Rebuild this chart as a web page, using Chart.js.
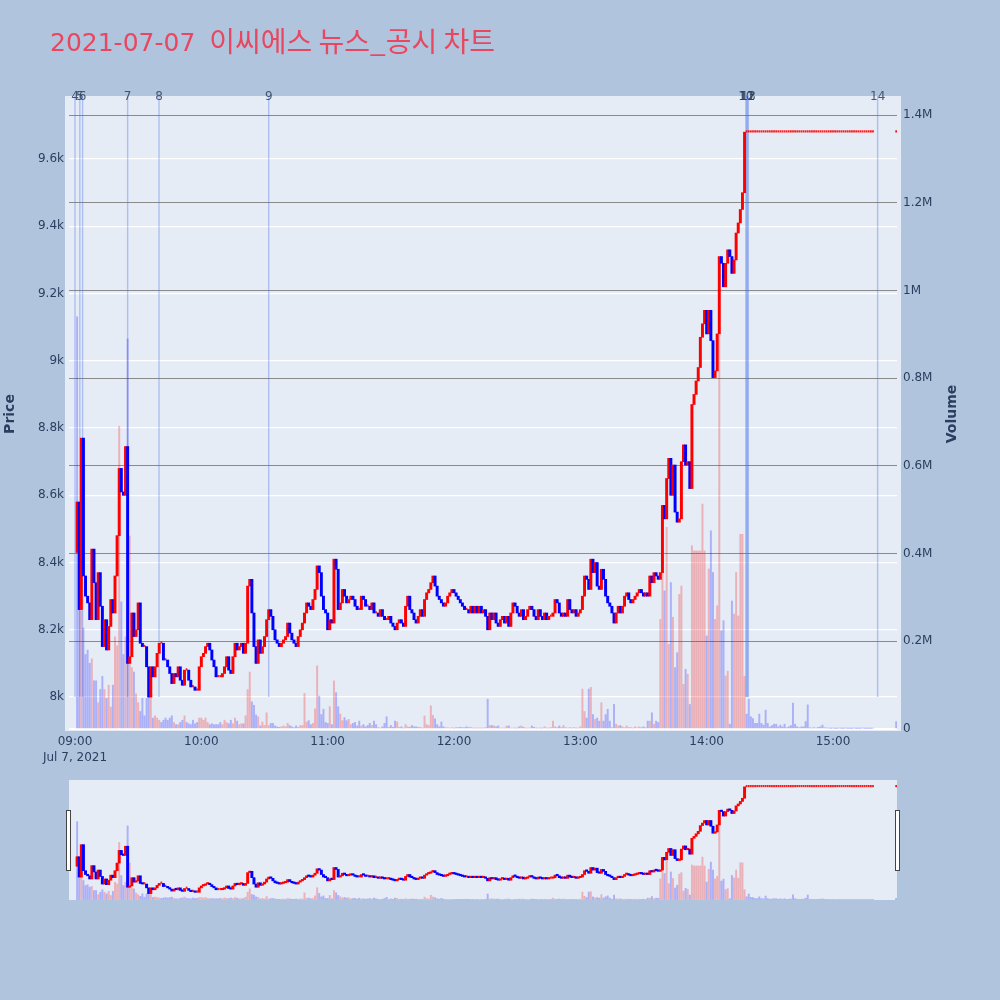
<!DOCTYPE html>
<html>
<head>
<meta charset="utf-8">
<script src="https://cdn.jsdelivr.net/npm/chart.js@4.4.1/dist/chart.umd.min.js"></script>
<style>
  body { margin: 0; background: #b0c4de; }
  #wrap { position: relative; width: 1000px; height: 1000px; }
  #main { position: absolute; left: 0; top: 0; }
  #sliderBox { position: absolute; left: 69px; top: 780px; width: 828px; height: 120px; }
  .handle { position: absolute; top: 810px; width: 3px; height: 59px; background: #fff; border: 1px solid #444; }
</style>
</head>
<body>
<div id="wrap">
  <canvas id="main" width="1000" height="1000"></canvas>
  <div id="sliderBox"><canvas id="slider" width="828" height="120"></canvas></div>
  <div class="handle" style="left:66px"></div>
  <div class="handle" style="left:895px"></div>
</div>
<script>
// ------------------------------
// Data (minute bars, 09:01 onwards)
// ------------------------------
const titleDate = "2021-07-07";
const titleName = "이씨에스 뉴스_공시 차트";
const startMinute = 1;          // first bar = 09:01
const firstOpen = 8430;

const closes = [
  8580, 8260, 8770, 8360, 8300, 8280, 8230, 8440, 8340, 8230,
  8370, 8270, 8150, 8230, 8140, 8210, 8290, 8250, 8360, 8480,
  8680, 8610, 8600, 8745, 8100, 8120, 8250, 8180, 8200, 8280,
  8160, 8150, 8150, 8090, 8000, 8090, 8060, 8090, 8130, 8160,
  8160, 8110, 8110, 8090, 8070, 8040, 8070, 8060, 8090, 8050,
  8035, 8080, 8080, 8050, 8030, 8030, 8020, 8020, 8090, 8120,
  8130, 8150, 8160, 8140, 8110, 8090, 8060, 8060, 8060, 8070,
  8090, 8120, 8080, 8070, 8120, 8160, 8140, 8150, 8160, 8130,
  8160, 8330, 8350, 8250, 8150, 8100, 8170, 8130, 8150, 8180,
  8230, 8260, 8240, 8200, 8170, 8160, 8150, 8160, 8170, 8180,
  8220, 8190, 8170, 8160, 8150, 8180, 8200, 8220, 8250, 8280,
  8270, 8260, 8290, 8320, 8390, 8370, 8300, 8260, 8250, 8200,
  8230, 8220, 8410, 8380, 8260, 8280, 8320, 8300, 8280, 8290,
  8300, 8290, 8270, 8260, 8260, 8300, 8290, 8270, 8270, 8260,
  8280, 8250, 8250, 8240, 8260, 8240, 8230, 8230, 8240, 8220,
  8210, 8200, 8220, 8230, 8220, 8210, 8270, 8300, 8260, 8250,
  8230, 8220, 8240, 8260, 8240, 8290, 8310, 8320, 8340, 8360,
  8330, 8300, 8290, 8280, 8270, 8280, 8300, 8310, 8320, 8310,
  8300, 8290, 8280, 8270, 8260, 8260, 8250, 8270, 8250, 8270,
  8250, 8270, 8250, 8260, 8240, 8200, 8250, 8230, 8250, 8220,
  8210, 8230, 8240, 8220, 8240, 8210, 8250, 8280, 8270, 8250,
  8240, 8260, 8230, 8240, 8260, 8270, 8260, 8240, 8230, 8260,
  8240, 8230, 8250, 8230, 8240, 8240, 8250, 8290, 8280, 8250,
  8240, 8250, 8240, 8290, 8260, 8250, 8260, 8240, 8250, 8260,
  8300, 8360, 8350, 8320, 8410, 8370, 8400, 8330, 8320, 8380,
  8350, 8300, 8280, 8270, 8250, 8220, 8250, 8270, 8250, 8270,
  8300, 8310, 8290, 8280, 8290, 8300, 8310, 8320, 8310, 8300,
  8310, 8300, 8360, 8340, 8370, 8360, 8350, 8370, 8570, 8530,
  8650, 8710, 8600, 8690, 8550, 8520, 8530, 8700, 8750, 8690,
  8700, 8620, 8870, 8900, 8940, 8980, 9070, 9110, 9150, 9080,
  9150, 9060, 8950, 8970, 9080, 9310, 9290, 9220, 9290, 9330,
  9310, 9260, 9300, 9380, 9410, 9450, 9500, 9680,
  // upper limit until 15:19
  9680, 9680, 9680, 9680, 9680, 9680, 9680, 9680, 9680, 9680,
  9680, 9680, 9680, 9680, 9680, 9680, 9680, 9680, 9680, 9680,
  9680, 9680, 9680, 9680, 9680, 9680, 9680, 9680, 9680, 9680,
  9680, 9680, 9680, 9680, 9680, 9680, 9680, 9680, 9680, 9680,
  9680, 9680, 9680, 9680, 9680, 9680, 9680, 9680, 9680, 9680,
  9680, 9680, 9680, 9680, 9680, 9680, 9680, 9680, 9680, 9680,
  9680
];

// thousand shares per minute
const volumes = [
  940, 290, 270, 230, 170, 180, 150, 160, 110, 110,
  60, 90, 120, 90, 70, 100, 50, 100, 210, 190,
  690, 290, 170, 210, 890, 440, 140, 130, 80, 60,
  40, 70, 30, 70, 80, 90, 25, 30, 25, 20,
  15, 20, 25, 20, 25, 30, 15, 10, 10, 15,
  20, 30, 15, 12, 10, 20, 12, 15, 25, 25,
  20, 25, 15, 10, 12, 10, 10, 10, 15, 10,
  20, 15, 12, 20, 12, 25, 18, 10, 12, 12,
  30, 90, 130, 62, 54, 32, 28, 7, 16, 8,
  37, 8, 13, 13, 7, 5, 4, 5, 7, 5,
  13, 8, 5, 3, 7, 4, 8, 8, 81, 16,
  19, 10, 13, 46, 144, 75, 33, 45, 15, 13,
  51, 10, 110, 83, 51, 34, 19, 26, 19, 22,
  10, 13, 15, 7, 18, 7, 10, 5, 8, 13,
  8, 18, 10, 3, 2, 5, 13, 28, 4, 8,
  4, 18, 16, 4, 5, 2, 10, 5, 4, 8,
  5, 5, 4, 4, 2, 30, 10, 8, 53, 31,
  23, 10, 5, 16, 5, 3, 3, 2, 3, 2,
  3, 3, 4, 3, 3, 5, 3, 4, 2, 2,
  2, 2, 2, 2, 3, 68, 8, 8, 7, 5,
  7, 2, 2, 2, 7, 7, 2, 2, 2, 2,
  5, 7, 4, 2, 2, 2, 7, 4, 2, 2,
  2, 2, 5, 2, 2, 3, 18, 5, 3, 7,
  3, 8, 3, 2, 3, 2, 3, 2, 2, 5,
  91, 40, 25, 91, 95, 33, 22, 25, 18, 60,
  18, 33, 45, 18, 3, 56, 11, 7, 8, 5,
  3, 7, 3, 3, 2, 5, 3, 5, 3, 5,
  3, 18, 18, 37, 11, 18, 15, 250, 467, 315,
  460, 193, 334, 255, 140, 174, 307, 326, 102, 136,
  125, 56, 418, 406, 406, 406, 406, 513, 406, 212,
  365, 452, 357, 250, 281, 898, 224, 247, 121, 132,
  11, 292, 262, 357, 258, 444, 444, 120,
  34, 68, 28, 24, 13, 13, 34, 13, 9, 43,
  13, 5, 8, 11, 11, 5, 9, 5, 11, 3,
  5, 8, 59, 11, 5, 3, 5, 5, 17, 55,
  3, 2, 3, 2, 4, 5, 9, 3, 2,
  2, 1, 2, 1, 1, 2, 1, 1, 2, 1, 1,
  1, 2, 1, 1, 1, 2, 1, 1, 1, 1, 2
];

// closing auction 15:30
const auctionMinute = 390;
const auctionPrice = 9680;
const auctionVolume = 17;

// news / disclosure markers
const newsLabels  = ["4", "5", "6", "7", "8", "9", "10", "11", "12", "13", "14"];
const newsMinutes = [0, 2.3, 3.6, 25.0, 39.9, 92.0, 318.6, 319.0, 319.4, 319.8, 381.2];

const priceTicks = [8000, 8200, 8400, 8600, 8800, 9000, 9200, 9400, 9600];
const priceTickLabels = ["8k", "8.2k", "8.4k", "8.6k", "8.8k", "9k", "9.2k", "9.4k", "9.6k"];
const volumeTicks = [0, 200000, 400000, 600000, 800000, 1000000, 1200000, 1400000];
const volumeTickLabels = ["0", "0.2M", "0.4M", "0.6M", "0.8M", "1M", "1.2M", "1.4M"];
const timeTicks = [0, 60, 120, 180, 240, 300, 360];
const timeTickLabels = ["09:00", "10:00", "11:00", "12:00", "13:00", "14:00", "15:00"];

// ------------------------------
// Build bar points
// ------------------------------
const RED = "#ff0000", BLUE = "#0000ff";
const VOL_RED = "rgba(255,0,0,0.25)", VOL_BLUE = "rgba(0,0,255,0.25)";

function buildSeries() {
    const candles = [], candleColors = [], flats = [], vols = [], volColors = [];
    const addCandle = (m, o, c) => {
        if (o === c) {
            flats.push({ x: m, y: [o, c] });   // unchanged minutes: small ticks
        } else {
            candles.push({ x: m, y: [o, c] });
            candleColors.push(c > o ? RED : BLUE);
        }
    };
    closes.forEach((c, i) => {
        const m = startMinute + i;
        addCandle(m, i ? closes[i - 1] : firstOpen, c);
        vols.push({ x: m, y: volumes[i] * 1000 });
        volColors.push(i > 0 && c > closes[i - 1] ? VOL_RED : VOL_BLUE);
    });
    const last = closes[closes.length - 1];
    addCandle(auctionMinute, last, auctionPrice);
    vols.push({ x: auctionMinute, y: auctionVolume * 1000 });
    volColors.push(auctionPrice > last ? VOL_RED : VOL_BLUE);

    return [
        { type: "bar", data: candles, backgroundColor: candleColors, yAxisID: "yP",
          barThickness: 2.3, minBarLength: 1.5, grouped: false, order: 1 },
        { type: "bar", data: flats, backgroundColor: "rgba(255,0,0,0.9)", yAxisID: "yP",
          barThickness: 1.1, minBarLength: 1.5, grouped: false, order: 1 },
        { type: "bar", data: vols, backgroundColor: volColors, yAxisID: "yV",
          barThickness: 1.3, grouped: false, order: 2 }
    ];
}

const X_MIN = -2.85, X_MAX = 390.4;
const P_MIN = 7899, P_MAX = 9787.5;
const V_MIN = -4561, V_MAX = 1443558;

Chart.defaults.font.family = '"DejaVu Sans", "Noto Sans CJK KR", sans-serif';
Chart.defaults.font.size = 12;
Chart.defaults.color = "#2a3f5f";

// ------------------------------
// Main chart
// ------------------------------
const decorations = {
    id: "decorations",
    beforeDraw(chart) {
        const ctx = chart.ctx;
        ctx.save();
        ctx.fillStyle = "#e5ecf6";
        ctx.fillRect(65, 96, 836, 635);
        ctx.restore();
    },
    beforeDatasetsDraw(chart) {
        const ctx = chart.ctx, x = chart.scales.x, y = chart.scales.yP;
        const bottom = y.getPixelForValue(8000);
        ctx.save();
        ctx.strokeStyle = "rgba(70,110,230,0.35)";
        ctx.lineWidth = 1.4;
        newsMinutes.forEach(m => {
            const px = x.getPixelForValue(m);
            ctx.beginPath();
            ctx.moveTo(px, chart.chartArea.top);
            ctx.lineTo(px, bottom);
            ctx.stroke();
        });
        ctx.restore();
    },
    afterDraw(chart) {
        const ctx = chart.ctx, x = chart.scales.x;
        ctx.save();
        // title: date part and Korean part
        ctx.fillStyle = "#e8475f";
        ctx.textBaseline = "alphabetic";
        ctx.textAlign = "left";
        ctx.font = '25px "DejaVu Sans", sans-serif';
        ctx.fillText(titleDate, 50, 51);
        const w = ctx.measureText(titleDate + " ").width;
        ctx.font = '28px "Noto Sans CJK KR", "DejaVu Sans", sans-serif';
        ctx.fillText(titleName, 50 + w + 6, 52);

        // news labels
        ctx.fillStyle = "rgba(42,63,95,0.85)";
        ctx.font = '12px "DejaVu Sans", sans-serif';
        ctx.textAlign = "center";
        ctx.textBaseline = "middle";
        newsLabels.forEach((t, i) => {
            ctx.fillText(t, x.getPixelForValue(newsMinutes[i]), 97);
        });

        // axis titles
        ctx.fillStyle = "#2a3f5f";
        ctx.font = 'bold 14px "DejaVu Sans", sans-serif';
        ctx.translate(10, 414);
        ctx.rotate(-Math.PI / 2);
        ctx.fillText("Price", 0, 0);
        ctx.rotate(Math.PI / 2);
        ctx.translate(942, 0);
        ctx.rotate(-Math.PI / 2);
        ctx.fillText("Volume", 0, 0);
        ctx.restore();
    }
};

new Chart(document.getElementById("main"), {
    type: "bar",
    data: { datasets: buildSeries() },
    options: {
        responsive: false,
        animation: false,
        layout: { padding: { top: 96, left: 0, right: 0, bottom: 0 } },
        plugins: { legend: { display: false }, tooltip: { enabled: false } },
        scales: {
            x: {
                type: "linear", min: X_MIN, max: X_MAX, offset: false,
                grid: { display: false, drawTicks: false },
                border: { display: false },
                ticks: {
                    autoSkip: false, maxRotation: 0, padding: 3,
                    font: { lineHeight: 1.3 },
                    callback: (v, i) => i === 0 ? [timeTickLabels[0], "Jul 7, 2021"] : timeTickLabels[i]
                },
                afterBuildTicks: s => { s.ticks = timeTicks.map(v => ({ value: v })); },
                afterFit: s => { s.height = 269; }
            },
            yP: {
                type: "linear", position: "left", min: P_MIN, max: P_MAX,
                grid: { color: "#ffffff", lineWidth: 1.2, drawTicks: false },
                border: { display: false },
                ticks: { padding: 5, callback: (v, i) => priceTickLabels[i] },
                afterBuildTicks: s => { s.ticks = priceTicks.map(v => ({ value: v })); },
                afterFit: s => { s.width = 69; }
            },
            yV: {
                type: "linear", position: "right", min: V_MIN, max: V_MAX,
                grid: {
                    color: c => c.tick && c.tick.value === 0 ? "#ffffff" : "#8a8a8a",
                    lineWidth: c => c.tick && c.tick.value === 0 ? 2 : 1,
                    drawTicks: false
                },
                border: { display: false },
                ticks: { padding: 6, callback: (v, i) => volumeTickLabels[i] },
                afterBuildTicks: s => { s.ticks = volumeTicks.map(v => ({ value: v })); },
                afterFit: s => { s.width = 103; }
            }
        }
    },
    plugins: [decorations]
});

// ------------------------------
// Range slider
// ------------------------------
const sliderBg = {
    id: "sliderBg",
    beforeDraw(chart) {
        const ctx = chart.ctx;
        ctx.save();
        ctx.fillStyle = "#e5ecf6";
        ctx.fillRect(0, 0, chart.width, chart.height);
        ctx.restore();
    }
};

new Chart(document.getElementById("slider"), {
    type: "bar",
    data: { datasets: buildSeries() },
    options: {
        responsive: false,
        animation: false,
        layout: { padding: 0 },
        plugins: { legend: { display: false }, tooltip: { enabled: false } },
        scales: {
            x: { type: "linear", min: X_MIN, max: X_MAX, offset: false, display: false },
            yP: { type: "linear", min: P_MIN, max: P_MAX, display: false },
            yV: { type: "linear", min: V_MIN, max: V_MAX, display: false }
        }
    },
    plugins: [sliderBg]
});
</script>
</body>
</html>
